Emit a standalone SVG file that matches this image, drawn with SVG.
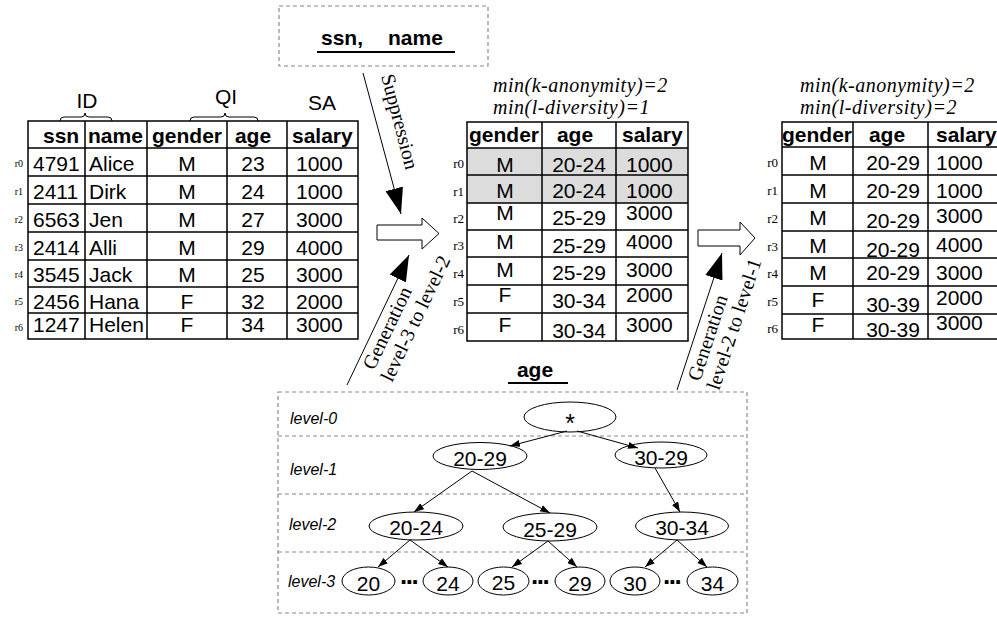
<svg xmlns="http://www.w3.org/2000/svg" width="997" height="617" viewBox="0 0 997 617">
<style>
text{font-family:"Liberation Sans",Arial,sans-serif;font-size:21px;fill:#000}
.b{font-weight:bold}
.m{text-anchor:middle}
.r text{font-family:"Liberation Serif","Times New Roman",serif;font-size:13px;text-anchor:end}
.r.rs text{font-size:10px}
text.i{font-family:"Liberation Serif","Times New Roman",serif;font-style:italic;font-size:20px;letter-spacing:0.5px}
text.g{font-family:"Liberation Serif","Times New Roman",serif;font-size:20px}
text.lv{font-style:italic;font-size:16px}
text.dots{font-weight:bold;font-size:26px;letter-spacing:-1.5px}
text.star{font-size:25px}
.tb{fill:none;stroke:#000;stroke-width:1.5}
.dash{fill:none;stroke:#8a8a8a;stroke-width:1.2;stroke-dasharray:4 3}
.ln{stroke:#000;stroke-width:1;fill:none}
.el{fill:#fff;stroke:#000;stroke-width:1}
.blk{fill:#fff;stroke:#000;stroke-width:1}
.ul{stroke:#000;stroke-width:2}
</style>
<defs>
<marker id="ah" markerWidth="10" markerHeight="8" refX="10" refY="4" orient="auto" markerUnits="userSpaceOnUse"><path d="M0,0.5 L10,4 L0,7.5 z" fill="#000"/></marker>
<marker id="big" markerWidth="26" markerHeight="18" refX="26" refY="9" orient="auto" markerUnits="userSpaceOnUse"><path d="M0,0 L26,9 L0,18 z" fill="#000"/></marker>
</defs>

<!-- original table -->
<g id="table-original">
<text x="87" y="108" class="m">ID</text>
<text x="226" y="104" class="m">QI</text>
<text x="322" y="110" class="m">SA</text>
<path class="ln" d="M60,121 Q60,117 64,117 L81,117 Q85,117 85,113 Q85,117 89,117 L108,117 Q112,117 112,121"/>
<path class="ln" d="M190,121 Q190,117 194,117 L221,117 Q225,117 225,113 Q225,117 229,117 L254,117 Q258,117 258,121"/>
<rect class="tb" x="28" y="121" width="330" height="218"/>
<path class="tb" d="M85,121V339M147,121V339M227,121V339M287,121V339M28,148H358M28,176H358M28,204H358M28,232H358M28,260H358M28,287H358M28,313H358"/>
<g class="b">
<text x="43" y="143">ssn</text><text x="88" y="143">name</text><text x="187" y="143" class="m">gender</text><text x="253" y="143" class="m">age</text><text x="292" y="143">salary</text>
</g>
<g class="r rs">
<text x="23" y="167">r0</text><text x="23" y="195">r1</text><text x="23" y="223">r2</text><text x="23" y="251">r3</text><text x="23" y="278">r4</text><text x="23" y="305">r5</text><text x="23" y="331">r6</text>
</g>
<text x="33" y="171">4791</text><text x="89" y="171">Alice</text><text x="187" y="171" class="m">M</text><text x="253" y="171" class="m">23</text><text x="296" y="171">1000</text>
<text x="33" y="199">2411</text><text x="89" y="199">Dirk</text><text x="187" y="199" class="m">M</text><text x="253" y="199" class="m">24</text><text x="296" y="199">1000</text>
<text x="33" y="226.5">6563</text><text x="89" y="226.5">Jen</text><text x="187" y="226.5" class="m">M</text><text x="253" y="226.5" class="m">27</text><text x="296" y="226.5">3000</text>
<text x="33" y="255">2414</text><text x="89" y="255">Alli</text><text x="187" y="255" class="m">M</text><text x="253" y="255" class="m">29</text><text x="296" y="255">4000</text>
<text x="33" y="282">3545</text><text x="89" y="282">Jack</text><text x="187" y="282" class="m">M</text><text x="253" y="282" class="m">25</text><text x="296" y="282">3000</text>
<text x="33" y="308.5">2456</text><text x="89" y="308.5">Hana</text><text x="187" y="308.5" class="m">F</text><text x="253" y="308.5" class="m">32</text><text x="296" y="308.5">2000</text>
<text x="33" y="332">1247</text><text x="89" y="332">Helen</text><text x="187" y="332" class="m">F</text><text x="253" y="332" class="m">34</text><text x="296" y="332">3000</text>
</g>

<!-- suppressed attributes box -->
<g id="suppress-box">
<rect class="dash" x="279" y="6" width="209" height="60"/>
<text x="321" y="45" class="b">ssn,<tspan x="388">name</tspan></text>
<line class="ul" x1="317" y1="52" x2="455" y2="52"/>
</g>

<!-- middle table -->
<g id="table-level2">
<text x="493" y="92" class="i">min(k-anonymity)=2</text>
<text x="493" y="114" class="i">min(l-diversity)=1</text>
<rect x="467" y="148" width="221" height="55" fill="#dcdcdc"/>
<rect class="tb" x="467" y="122" width="221" height="219"/>
<path class="tb" d="M542,122V341M616,122V341M467,148H688M467,175H688M467,203H688M467,230H688M467,257H688M467,285H688M467,313H688"/>
<g class="b">
<text x="504" y="142" class="m">gender</text><text x="575" y="142" class="m">age</text><text x="622" y="142">salary</text>
</g>
<g class="r">
<text x="464" y="168">r0</text><text x="464" y="195.5">r1</text><text x="464" y="223">r2</text><text x="464" y="250">r3</text><text x="464" y="277.5">r4</text><text x="464" y="305.5">r5</text><text x="464" y="333.5">r6</text>
</g>
<text x="505" y="172" class="m">M</text><text x="579" y="172" class="m">20-24</text><text x="626" y="172">1000</text>
<text x="505" y="198" class="m">M</text><text x="579" y="198" class="m">20-24</text><text x="626" y="198">1000</text>
<text x="505" y="220" class="m">M</text><text x="579" y="225" class="m">25-29</text><text x="626" y="220">3000</text>
<text x="505" y="249" class="m">M</text><text x="579" y="253" class="m">25-29</text><text x="626" y="249">4000</text>
<text x="505" y="277" class="m">M</text><text x="579" y="280" class="m">25-29</text><text x="626" y="277">3000</text>
<text x="505" y="302" class="m">F</text><text x="579" y="308" class="m">30-34</text><text x="626" y="302">2000</text>
<text x="505" y="332" class="m">F</text><text x="579" y="338" class="m">30-34</text><text x="626" y="332">3000</text>
</g>

<!-- right table -->
<g id="table-level1">
<text x="800" y="92" class="i">min(k-anonymity)=2</text>
<text x="800" y="114" class="i">min(l-diversity)=2</text>
<rect class="tb" x="782" y="122" width="225" height="217"/>
<path class="tb" d="M853,122V339M928,122V339M782,147H1007M782,175H1007M782,203H1007M782,231H1007M782,258H1007M782,286H1007M782,314H1007"/>
<g class="b">
<text x="817" y="142" class="m">gender</text><text x="887" y="142" class="m">age</text><text x="936" y="142">salary</text>
</g>
<g class="r">
<text x="778" y="167">r0</text><text x="778" y="195">r1</text><text x="778" y="223">r2</text><text x="778" y="250.5">r3</text><text x="778" y="278">r4</text><text x="778" y="306">r5</text><text x="778" y="332.5">r6</text>
</g>
<text x="818" y="170" class="m">M</text><text x="893" y="170" class="m">20-29</text><text x="936" y="170">1000</text>
<text x="818" y="198" class="m">M</text><text x="893" y="198" class="m">20-29</text><text x="936" y="198">1000</text>
<text x="818" y="225" class="m">M</text><text x="893" y="228" class="m">20-29</text><text x="936" y="223">3000</text>
<text x="818" y="253" class="m">M</text><text x="893" y="257" class="m">20-29</text><text x="936" y="252">4000</text>
<text x="818" y="280" class="m">M</text><text x="893" y="280" class="m">20-29</text><text x="936" y="280">3000</text>
<text x="818" y="307" class="m">F</text><text x="893" y="312" class="m">30-39</text><text x="936" y="305">2000</text>
<text x="818" y="332" class="m">F</text><text x="893" y="337" class="m">30-39</text><text x="936" y="330">3000</text>
</g>

<!-- age hierarchy -->
<g id="age-hierarchy">
<text x="535" y="377" class="b m">age</text>
<line class="ul" x1="508" y1="383" x2="568" y2="383"/>
<rect class="dash" x="278" y="392" width="469" height="221"/>
<path class="dash" d="M278,436H747M278,494H747M278,552H747"/>
<text x="290" y="424" class="lv">level-0</text>
<text x="290" y="475" class="lv">level-1</text>
<text x="289" y="530" class="lv">level-2</text>
<text x="288" y="587" class="lv">level-3</text>
</g>
<g id="node-star"><ellipse class="el" cx="570" cy="417" rx="46" ry="15"/><text x="570" y="432" class="m star">*</text></g>
<g id="node-20-29"><ellipse class="el" cx="480" cy="456" rx="47" ry="13.5"/><text x="480" y="466" class="m">20-29</text></g>
<g id="node-30-29"><ellipse class="el" cx="661" cy="455" rx="46" ry="13"/><text x="661" y="465" class="m">30-29</text></g>
<g id="node-20-24"><ellipse class="el" cx="416" cy="526" rx="47" ry="14"/><text x="416" y="535" class="m">20-24</text></g>
<g id="node-25-29"><ellipse class="el" cx="550" cy="527" rx="47" ry="14"/><text x="550" y="537" class="m">25-29</text></g>
<g id="node-30-34"><ellipse class="el" cx="682" cy="526" rx="46.5" ry="14"/><text x="682" y="535" class="m">30-34</text></g>
<g id="node-20"><ellipse class="el" cx="368.5" cy="581" rx="26.5" ry="14"/><text x="368.5" y="591" class="m">20</text></g>
<g id="node-24"><ellipse class="el" cx="448" cy="581" rx="25" ry="14"/><text x="448" y="591" class="m">24</text></g>
<g id="node-25"><ellipse class="el" cx="503.5" cy="581" rx="25.5" ry="14"/><text x="503.5" y="590" class="m">25</text></g>
<g id="node-29"><ellipse class="el" cx="580" cy="581" rx="25" ry="14"/><text x="580" y="591" class="m">29</text></g>
<g id="node-30"><ellipse class="el" cx="635" cy="581" rx="25" ry="14"/><text x="635" y="591" class="m">30</text></g>
<g id="node-34"><ellipse class="el" cx="712.5" cy="581" rx="25.5" ry="14"/><text x="712.5" y="591" class="m">34</text></g>
<g id="ellipsis">
<text x="400" y="584" class="dots">...</text>
<text x="531" y="584" class="dots">...</text>
<text x="663" y="584" class="dots">...</text>
</g>

<!-- connectors -->
<g id="connectors">
<polygon class="blk" points="377,225 422,225 422,218 439,233.5 422,249 422,240 377,240"/>
<polygon class="blk" points="698,230 740,230 740,222 755,238 740,255 740,246 698,246"/>
<line class="ln" x1="363" y1="73" x2="401" y2="214" marker-end="url(#big)"/>
<text class="g" transform="translate(381,76) rotate(75.3)">Suppression</text>
<line class="ln" x1="347" y1="385" x2="409" y2="255" marker-end="url(#big)"/>
<text class="g" transform="translate(374,371) rotate(-64.5)">Generation</text>
<text class="g" transform="translate(392,383) rotate(-64.5)">level-3 to level-2</text>
<line class="ln" x1="677" y1="390" x2="722" y2="253" marker-end="url(#big)"/>
<text class="g" transform="translate(700,382) rotate(-71.8)">Generation</text>
<text class="g" transform="translate(719,391) rotate(-71.8)">level-2 to level-1</text>
<line class="ln" x1="567" y1="431" x2="510" y2="446" marker-end="url(#ah)"/>
<line class="ln" x1="577" y1="431" x2="638" y2="448" marker-end="url(#ah)"/>
<line class="ln" x1="472" y1="471" x2="414" y2="512" marker-end="url(#ah)"/>
<line class="ln" x1="472" y1="471" x2="550" y2="513" marker-end="url(#ah)"/>
<line class="ln" x1="655" y1="468" x2="680" y2="512" marker-end="url(#ah)"/>
<line class="ln" x1="410" y1="540" x2="378" y2="567" marker-end="url(#ah)"/>
<line class="ln" x1="410" y1="540" x2="448" y2="567" marker-end="url(#ah)"/>
<line class="ln" x1="548" y1="541" x2="512" y2="567" marker-end="url(#ah)"/>
<line class="ln" x1="548" y1="541" x2="577" y2="567" marker-end="url(#ah)"/>
<line class="ln" x1="677" y1="540" x2="645" y2="567" marker-end="url(#ah)"/>
<line class="ln" x1="677" y1="540" x2="707" y2="567" marker-end="url(#ah)"/>
</g>
</svg>
